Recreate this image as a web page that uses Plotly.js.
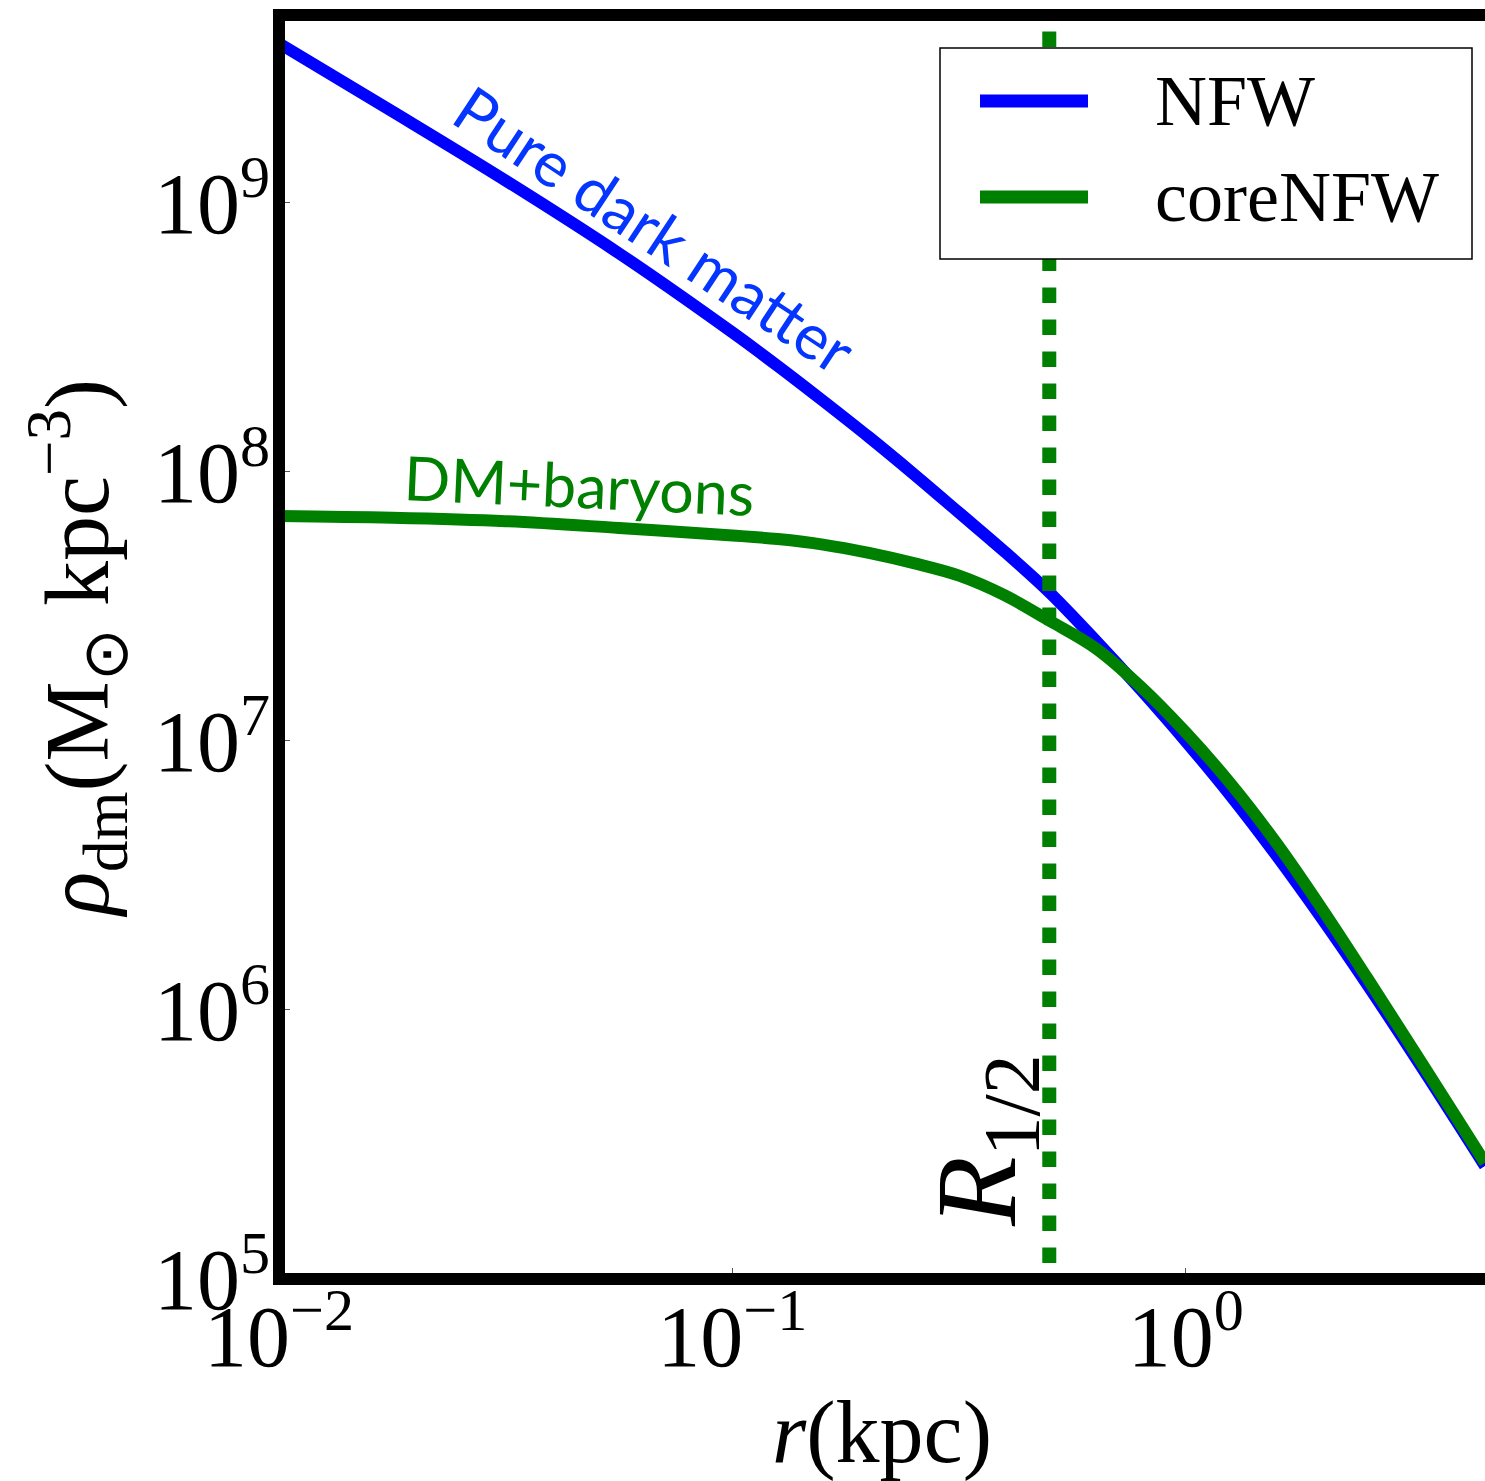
<!DOCTYPE html>
<html>
<head>
<meta charset="utf-8">
<script src="https://cdn.plot.ly/plotly-3.0.1.min.js"></script>
<style>html,body{margin:0;padding:0;background:#fff;overflow:hidden}</style>
</head>
<body>
<div id="chart" style="width:1485px;height:1481px"></div>
<script>
// radius (kpc) sampled along the curves
const r_kpc = [0.01, 0.01778, 0.03162, 0.05623, 0.1, 0.1259, 0.1585, 0.2, 0.2512, 0.3162, 0.3981, 0.5012, 0.631, 0.7943, 1.0, 1.259, 1.585, 1.995, 2.512, 3.162, 3.981, 4.571];
// NFW (pure dark matter) density, Msun/kpc^3
const rho_nfw = [3.905e9, 2.182e9, 1.207e9, 6.475e8, 3.291e8, 2.471e8, 1.833e8, 1.345e8, 9.797e7, 7.043e7, 5.051e7, 3.551e7, 2.373e7, 1.554e7, 9.959e6, 6.221e6, 3.747e6, 2.188e6, 1.244e6, 6.917e5, 3.790e5, 2.631e5];
// coreNFW (DM+baryons) density, Msun/kpc^3
const rho_core = [6.850e7, 6.747e7, 6.548e7, 6.177e7, 5.794e7, 5.618e7, 5.360e7, 4.991e7, 4.571e7, 4.107e7, 3.476e7, 2.791e7, 2.216e7, 1.593e7, 1.074e7, 6.893e6, 4.169e6, 2.381e6, 1.316e6, 7.194e5, 3.906e5, 2.705e5];
// half-light radius (kpc)
const R_half = 0.5;

const seriesNames = ['NFW', 'coreNFW'];
const seriesColors = ['#0000ff', '#008000'];

const xTickVals = [0.01, 0.1, 1];
const xTickText = ['10<sup>\u22122</sup>', '10<sup>\u22121</sup>', '10<sup>0</sup>'];
const yTickVals = [1e5, 1e6, 1e7, 1e8, 1e9];
const yTickText = ['10<sup>5</sup>', '10<sup>6</sup>', '10<sup>7</sup>', '10<sup>8</sup>', '10<sup>9</sup>'];

const xRange = [-2, 0.660];
const yRange = [5, 9.697];

const serif = 'Liberation Serif, Times New Roman, serif';
const sans = 'Lato, Open Sans, sans-serif';

const traces = [
  {x: r_kpc, y: rho_nfw, name: seriesNames[0], mode: 'lines', showlegend: false,
   line: {color: seriesColors[0], width: 12, shape: 'spline', smoothing: 1.0}},
  {x: r_kpc, y: rho_core, name: seriesNames[1], mode: 'lines', showlegend: false,
   line: {color: seriesColors[1], width: 12, shape: 'spline', smoothing: 1.0}},
  {x: [R_half, R_half], y: [Math.pow(10, yRange[1]), Math.pow(10, yRange[0])], mode: 'lines', showlegend: false,
   line: {color: seriesColors[1], width: 14, dash: '0px,16.5px,15.5px,0px'}}
];

// plot-area size in px (for converting px offsets to paper units)
const pw = 1206, ph = 1264, lw = 12;
const px = v => (v - 279) / pw;      // page x -> paper
const py = v => (1279 - v) / ph;     // page y -> paper

const legendBox = {x0: px(940), x1: px(1472), y0: py(259), y1: py(48)};
const legendRows = [py(101), py(197)];

const shapes = [
  {type: 'line', xref: 'paper', yref: 'paper', x0: 0, x1: 0, y0: -lw/2/ph, y1: 1 + lw/2/ph, line: {color: '#000', width: lw}, layer: 'above'},
  {type: 'line', xref: 'paper', yref: 'paper', x0: -lw/2/pw, x1: 1, y0: 0, y1: 0, line: {color: '#000', width: lw}, layer: 'above'},
  {type: 'line', xref: 'paper', yref: 'paper', x0: -lw/2/pw, x1: 1, y0: 1, y1: 1, line: {color: '#000', width: lw}, layer: 'above'},
  {type: 'rect', xref: 'paper', yref: 'paper', x0: legendBox.x0, x1: legendBox.x1, y0: legendBox.y0, y1: legendBox.y1,
   fillcolor: '#fff', line: {color: '#000', width: 1.5}, layer: 'above'}
];
const annotations = [
  {text: 'Pure dark matter', xref: 'paper', yref: 'paper', x: px(655), y: py(228), xanchor: 'center', yanchor: 'middle',
   showarrow: false, textangle: 33.5, font: {family: sans, size: 63, color: '#0536ff'}},
  {text: 'DM+baryons', xref: 'paper', yref: 'paper', x: px(579), y: py(484), xanchor: 'center', yanchor: 'middle',
   showarrow: false, textangle: 2.6, font: {family: sans, size: 61, color: '#008000'}},
  {text: '<i>R</i><sub>1/2</sub>', xref: 'paper', yref: 'paper', x: px(984), y: py(1140), xanchor: 'center', yanchor: 'middle',
   showarrow: false, textangle: -90, font: {family: serif, size: 114, color: '#000'}}
];
seriesNames.forEach((name, i) => {
  shapes.push({type: 'line', xref: 'paper', yref: 'paper', x0: px(980), x1: px(1088), y0: legendRows[i], y1: legendRows[i],
               line: {color: seriesColors[i], width: 13}, layer: 'above'});
  annotations.push({text: name, xref: 'paper', yref: 'paper', x: px(1153), y: legendRows[i], xanchor: 'left', yanchor: 'middle',
                    showarrow: false, font: {family: serif, size: 72, color: '#000'}});
});

const layout = {
  width: 1485, height: 1481,
  margin: {l: 279, r: 0, t: 15, b: 202},
  paper_bgcolor: '#fff', plot_bgcolor: '#fff',
  font: {family: serif, color: '#000'},
  showlegend: false,
  xaxis: {type: 'log', range: xRange, tickvals: xTickVals, ticktext: xTickText, ticks: 'inside', ticklen: 11, tickwidth: 1, tickcolor: '#555',
          showline: false, showgrid: false, zeroline: false, tickfont: {family: serif, size: 86, color: '#000'}, ticklabelstandoff: 0,
          title: {text: '<i>r</i>(kpc)', font: {family: serif, size: 88, color: '#000'}, standoff: 10}},
  yaxis: {type: 'log', range: yRange, tickvals: yTickVals, ticktext: yTickText, ticks: 'inside', ticklen: 11, tickwidth: 1, tickcolor: '#555',
          showline: false, showgrid: false, zeroline: false, tickfont: {family: serif, size: 86, color: '#000'}, ticklabelstandoff: 8,
          title: {text: '<i>\u03c1</i><sub>dm</sub>(M<sub>\u2299</sub> kpc<sup>\u22123</sup>)', font: {family: serif, size: 90, color: '#000'}, standoff: 15}},
  shapes: shapes,
  annotations: annotations
};

Plotly.newPlot('chart', traces, layout, {displayModeBar: false, staticPlot: true});
</script>
</body>
</html>
